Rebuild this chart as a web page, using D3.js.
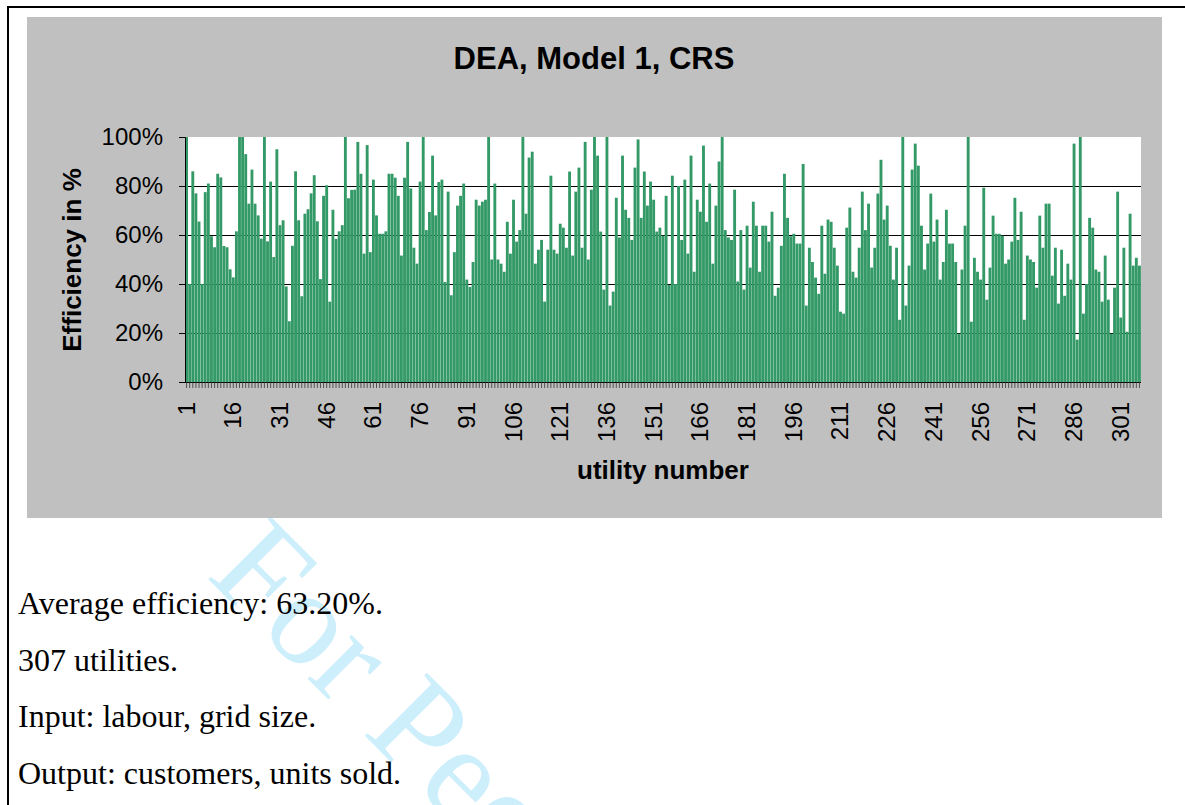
<!DOCTYPE html>
<html>
<head>
<meta charset="utf-8">
<script src="https://cdn.jsdelivr.net/npm/d3@7"></script>
<style>
  body { margin: 0; background: #fff; }
  svg { display: block; }
</style>
</head>
<body>
<svg id="page" width="1185" height="805"></svg>
<script>
// ---------- DATA ----------
var title = "DEA, Model 1, CRS";
var xTitle = "utility number";
var yTitle = "Efficiency in %";
var categories = d3.range(1, 308);
var tickLabels = [1, 16, 31, 46, 61, 76, 91, 106, 121, 136, 151, 166, 181, 196, 211, 226, 241, 256, 271, 286, 301];
var yTicks = [0, 0.2, 0.4, 0.6, 0.8, 1];
var gridValues = [0.2, 0.4, 0.6, 0.8];
// efficiency in % for utilities 1..307
var efficiency = [
  100, 40, 86, 77, 65.5, 40, 77.5, 81, 59.5, 55, 85, 83.5, 55.5, 55, 46, 42.7, 61.5, 100, 100, 93, 72.8, 86.7, 72.8, 68, 58.5, 100, 57.4, 81.8, 51, 95, 64,
  66, 39, 24.8, 55.6, 86, 66, 35, 68.7, 70.5, 77, 84.4, 65.6, 42, 76, 80.3, 32.8, 70.3, 58.4, 61.5, 64, 100, 75, 78.4, 78.5, 98, 85, 52.4, 96.7, 53, 82.6,
  68, 60.5, 60.5, 61.5, 85, 85, 83.4, 76, 51.6, 83.4, 98, 79, 54.8, 48.3, 81.8, 100, 62, 69.4, 92.4, 68, 81.6, 82.6, 40.8, 77.7, 35.4, 53, 72, 76, 81, 41.8,
  38.8, 49, 74.4, 72, 73.6, 74.4, 100, 50, 81, 50, 48.3, 45, 65.4, 52.4, 74.4, 57.3, 62, 100, 68.7, 91.6, 94, 48.3, 54, 58, 32.8, 54, 84.2, 54, 52.4, 64.6, 63,
  54.8, 85.9, 51.6, 77.7, 87.5, 54.8, 98, 50, 78.5, 100, 92.4, 61.4, 37.7, 100, 31.2, 36.9, 75.2, 59, 92.4, 70.3, 67, 58, 87.5, 99, 67, 85.9, 72, 81.8, 74.4, 61.4, 63,
  59.7, 76, 39.6, 84.2, 40, 80, 58, 82.6, 52.4, 92.4, 45, 74.4, 69.5, 96.5, 65.4, 81, 48.3, 72, 90, 100, 62, 59, 58, 78.5, 41, 62, 37.7, 63.8, 46.7, 73.6,
  63.8, 45, 63.8, 63.8, 57.3, 69.5, 35.2, 38.5, 55.6, 85, 67, 59.5, 60.5, 56.5, 56.5, 89, 31.2, 54.8, 49, 42.6, 36, 63.8, 44.2, 66.3, 65.4, 54.8, 47.5, 28.7, 27.9, 63, 71.2,
  45, 42.6, 54.8, 77.7, 62, 72.8, 46.7, 54.8, 76.9, 90.7, 66.3, 72, 55.6, 41.8, 54.8, 25.4, 100, 31.2, 47.5, 86.7, 97.3, 88.3, 63.8, 45.9, 56.5, 76.9, 57.3, 66.3, 41.8, 49,
  70.3, 56.5, 56.5, 49, 19.7, 45.9, 63.8, 100, 24.6, 50.7, 45, 41.8, 79.3, 33.6, 46.7, 67.9, 60.5, 60.5, 59.7, 48.3, 50, 57.3, 75.2, 58, 69.5, 25.4, 51.6, 50, 49, 38.5, 67.9,
  54.8, 72.8, 72.8, 43.4, 54.8, 32, 54, 35.2, 48.3, 41.8, 97.3, 17.3, 100, 27.9, 40, 67, 63, 45.9, 45, 32.8, 51.6, 33.6, 19.7, 38.5, 77.7, 26.3, 54.8, 20.5, 68.7, 47.5, 50.7, 47.5
];
var notes = [
  "Average efficiency: 63.20%.",
  "307 utilities.",
  "Input: labour, grid size.",
  "Output: customers, units sold."
];
var watermark = "For Peer Review";

// ---------- LAYOUT ----------
var svg = d3.select("#page");
var plot = { left: 185, right: 1141, top: 137, bottom: 382 };
var sansFont = "'Liberation Sans', Arial, sans-serif";
var serifFont = "'Liberation Serif', 'Times New Roman', serif";

// watermark (under everything)
svg.append("text")
  .attr("transform", "translate(205,576) rotate(45)")
  .attr("font-family", serifFont)
  .attr("font-size", 135)
  .attr("fill", "#8fdcf8")
  .attr("opacity", 0.45)
  .text(watermark);

// page frame
svg.append("path")
  .attr("d", "M8,810 L8,7 L1195,7")
  .attr("fill", "none")
  .attr("stroke", "#000")
  .attr("stroke-width", 2);

// grey chart area
svg.append("rect")
  .attr("x", 27).attr("y", 17)
  .attr("width", 1135).attr("height", 501)
  .attr("fill", "#c0c0c0");

// plot area
svg.append("rect")
  .attr("x", plot.left).attr("y", plot.top)
  .attr("width", plot.right - plot.left).attr("height", plot.bottom - plot.top)
  .attr("fill", "#fff");

var x = d3.scaleBand()
  .domain(categories)
  .range([plot.left, plot.right])
  .paddingInner(0.08)
  .paddingOuter(0.04);

var y = d3.scaleLinear()
  .domain([0, 1])
  .range([plot.bottom, plot.top]);

// gridlines
svg.selectAll("line.grid")
  .data(gridValues)
  .enter()
  .append("line")
  .attr("class", "grid")
  .attr("x1", plot.left).attr("x2", plot.right)
  .attr("y1", function(d){ return Math.round(y(d)) + 0.5; })
  .attr("y2", function(d){ return Math.round(y(d)) + 0.5; })
  .attr("stroke", "#000")
  .attr("stroke-width", 1);

// bars
svg.selectAll("rect.bar")
  .data(efficiency)
  .enter()
  .append("rect")
  .attr("class", "bar")
  .attr("x", function(d, i){ return x(categories[i]); })
  .attr("width", x.bandwidth())
  .attr("y", function(d){ return y(d / 100); })
  .attr("height", function(d){ return plot.bottom - y(d / 100); })
  .attr("fill", "#339966");

// y axis
var yAxis = d3.axisLeft(y)
  .tickValues(yTicks)
  .tickFormat(d3.format(".0%"))
  .tickSize(6)
  .tickPadding(16);

var yg = svg.append("g")
  .attr("transform", "translate(" + plot.left + ",0)")
  .call(yAxis);
yg.selectAll("text")
  .attr("font-family", sansFont)
  .attr("font-size", 24)
  .attr("fill", "#000");
yg.selectAll("line, path").attr("stroke", "#000");

// x axis: one tick per utility, labels every 15th
var xTicks = d3.axisBottom(x)
  .tickValues(categories)
  .tickFormat("")
  .tickSize(6);

var xg = svg.append("g")
  .attr("transform", "translate(0," + plot.bottom + ")")
  .call(xTicks);
xg.select("path").attr("stroke", "#000").attr("d", "M" + plot.left + ",0.5H" + plot.right);
xg.selectAll("line").attr("stroke", "#333").attr("stroke-width", 0.8);

var xl = svg.append("g")
  .attr("transform", "translate(0," + plot.bottom + ")")
  .call(d3.axisBottom(x).tickValues(tickLabels).tickSize(0).tickPadding(0));
xl.select("path").remove();
xl.selectAll("text")
  .attr("font-family", sansFont)
  .attr("font-size", 24)
  .attr("fill", "#000")
  .attr("text-anchor", "end")
  .attr("dy", null)
  .attr("y", 0)
  .attr("transform", "translate(8,20) rotate(-90)");

// titles
svg.append("text")
  .attr("x", 594).attr("y", 69)
  .attr("text-anchor", "middle")
  .attr("font-family", sansFont)
  .attr("font-weight", "bold")
  .attr("font-size", 31)
  .text(title);

svg.append("text")
  .attr("x", 663).attr("y", 479)
  .attr("text-anchor", "middle")
  .attr("font-family", sansFont)
  .attr("font-weight", "bold")
  .attr("font-size", 26)
  .text(xTitle);

svg.append("text")
  .attr("transform", "translate(81,260) rotate(-90)")
  .attr("text-anchor", "middle")
  .attr("font-family", sansFont)
  .attr("font-weight", "bold")
  .attr("font-size", 26)
  .text(yTitle);

// notes under the chart
svg.selectAll("text.note")
  .data(notes)
  .enter()
  .append("text")
  .attr("class", "note")
  .attr("x", 18)
  .attr("y", function(d, i){ return 614 + i * 56.5; })
  .attr("font-family", serifFont)
  .attr("font-size", 32)
  .attr("fill", "#000")
  .text(function(d){ return d; });
</script>
</body>
</html>
